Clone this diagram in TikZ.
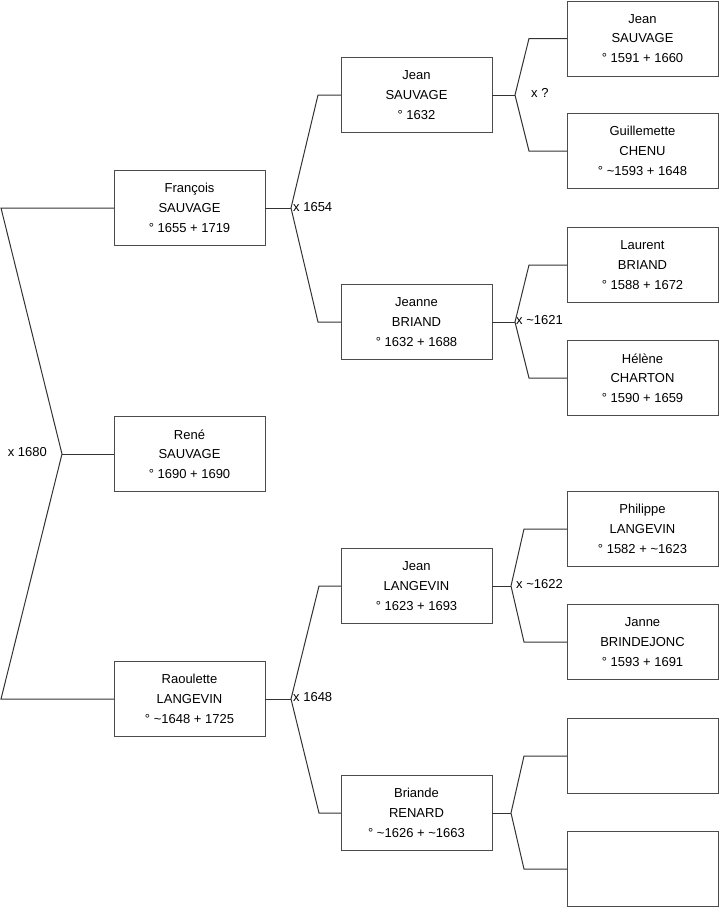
\documentclass[tikz,border=0pt]{standalone}
\usepackage{fontspec}
\setmainfont{Liberation Sans}
\begin{document}
\begin{tikzpicture}[x=1pt,y=-1pt,
  person/.style={draw=black!70,line width=1pt,fill=white,minimum width=151pt,minimum height=75pt,
    inner sep=0pt,outer sep=0pt,align=center,font=\fontsize{13pt}{19.7pt}\selectfont},
  conn/.style={draw=black!80,line width=1pt},
  lbl/.style={inner sep=0pt,font=\fontsize{13pt}{15pt}\selectfont}]
\useasboundingbox (0,0) rectangle (719,908);
% generation 1
\node[person] (fr) at (189.5,208) {François\\SAUVAGE\\° 1655 + 1719};
\node[person] (rene) at (189.5,454) {René\\SAUVAGE\\° 1690 + 1690};
\node[person] (ra) at (189.5,699) {Raoulette\\LANGEVIN\\° \textasciitilde1648 + 1725};
% generation 2
\node[person] (js) at (416.5,95) {Jean\\SAUVAGE\\° 1632};
\node[person] (jb) at (416.5,322) {Jeanne\\BRIAND\\° 1632 + 1688};
\node[person] (jl) at (416.5,586) {Jean\\LANGEVIN\\° 1623 + 1693};
\node[person] (br) at (416.5,813) {Briande\\RENARD\\° \textasciitilde1626 + \textasciitilde1663};
% generation 3
\node[person] (g1) at (642.5,38.5) {Jean\\SAUVAGE\\° 1591 + 1660};
\node[person] (g2) at (642.5,151) {Guillemette\\CHENU\\° \textasciitilde1593 + 1648};
\node[person] (g3) at (642.5,265) {Laurent\\BRIAND\\° 1588 + 1672};
\node[person] (g4) at (642.5,378) {Hélène\\CHARTON\\° 1590 + 1659};
\node[person] (g5) at (642.5,529) {Philippe\\LANGEVIN\\° 1582 + \textasciitilde1623};
\node[person] (g6) at (642.5,642) {Janne\\BRINDEJONC\\° 1593 + 1691};
\node[person] (g7) at (642.5,756) {};
\node[person] (g8) at (642.5,869) {};
% junction coordinates
\coordinate (rt) at (1,208);
\coordinate (r0) at (62,454);
\coordinate (rb) at (1,699);
\coordinate (a0) at (291,208);
\coordinate (at) at (318,95);
\coordinate (ab) at (318,322);
\coordinate (b0) at (291,699);
\coordinate (bt) at (319,586);
\coordinate (bb) at (319,813);
\coordinate (c0) at (515,95);
\coordinate (ct) at (529,38.5);
\coordinate (cb) at (529,151);
\coordinate (d0) at (515,322);
\coordinate (dt) at (529,265);
\coordinate (db) at (529,378);
\coordinate (e0) at (511,586);
\coordinate (et) at (524,529);
\coordinate (eb) at (524,642);
\coordinate (f0) at (511,813);
\coordinate (ft) at (524,756);
\coordinate (fb) at (524,869);
% connectors
\draw[conn] (fr.west) -- (rt) -- (r0) -- (rb) -- (ra.west);
\draw[conn] (r0) -- (rene.west);
\draw[conn] (fr.east) -- (a0);
\draw[conn] (js.west) -- (at) -- (a0) -- (ab) -- (jb.west);
\draw[conn] (ra.east) -- (b0);
\draw[conn] (jl.west) -- (bt) -- (b0) -- (bb) -- (br.west);
\draw[conn] (js.east) -- (c0);
\draw[conn] (g1.west) -- (ct) -- (c0) -- (cb) -- (g2.west);
\draw[conn] (jb.east) -- (d0);
\draw[conn] (g3.west) -- (dt) -- (d0) -- (db) -- (g4.west);
\draw[conn] (jl.east) -- (e0);
\draw[conn] (g5.west) -- (et) -- (e0) -- (eb) -- (g6.west);
\draw[conn] (br.east) -- (f0);
\draw[conn] (g7.west) -- (ft) -- (f0) -- (fb) -- (g8.west);
% marriage labels
\node[lbl,anchor=east] (m1) at (47,452) {x 1680};
\node[lbl,anchor=west] (m2) at (293,207) {x 1654};
\node[lbl,anchor=west] (m3) at (531,93) {x ?};
\node[lbl,anchor=west] (m4) at (516,320) {x \textasciitilde1621};
\node[lbl,anchor=west] (m5) at (516,584) {x \textasciitilde1622};
\node[lbl,anchor=west] (m6) at (293,697) {x 1648};
\end{tikzpicture}
\end{document}
